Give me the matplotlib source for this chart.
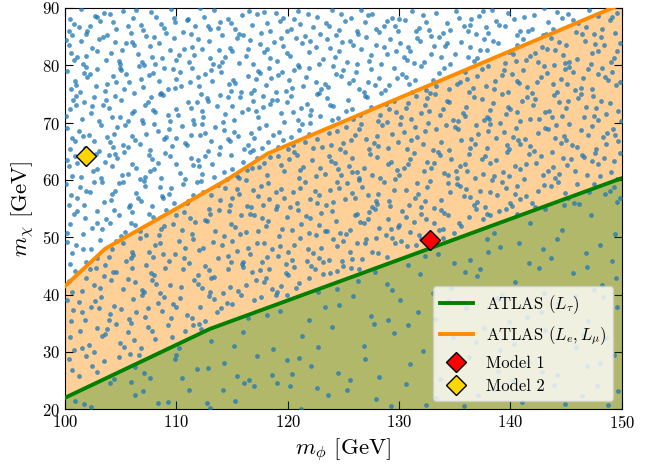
import matplotlib

matplotlib.use("Agg")
import matplotlib.pyplot as plt
import numpy as np

plt.rcParams["font.family"] = "serif"
plt.rcParams["font.serif"] = ["cmr10", "DejaVu Serif"]
plt.rcParams["mathtext.fontset"] = "cm"
plt.rcParams["axes.formatter.use_mathtext"] = True

# ATLAS exclusion boundaries (m_phi, m_chi)
atlas_tau_mphi = [100.0, 113.0, 150.0]
atlas_tau_mchi = [22.0, 34.0, 60.3]
atlas_emu_mphi = [100.0, 103.6, 110.0, 114.5, 118.2, 150.0]
atlas_emu_mchi = [41.5, 48.0, 55.0, 60.0, 64.6, 90.7]

# benchmark models
model1 = (132.8, 49.5)
model2 = (101.9, 64.2)

# parameter scan points, flattened (m_phi, m_chi) pairs
scan_points = [
    # 85-90
    100.8,87.2, 103.5,89.1, 105.9,85.6, 108.2,88.4, 111.7,86.9, 113.4,89.6, 116.0,85.3, 119.3,87.7, 121.8,89.0, 124.6,86.1,
    127.2,88.8, 129.9,85.9, 132.4,87.5, 135.1,89.4, 137.8,86.6, 140.3,88.1, 142.9,85.2, 145.6,87.9, 148.2,86.4, 149.6,89.2,
    101.9,85.4, 102.7,88.6, 106.8,87.0, 109.5,89.8, 110.6,85.8, 114.9,87.3, 117.2,88.9, 118.4,86.0, 122.9,85.5, 125.7,88.2,
    128.6,86.8, 131.2,89.5, 133.9,85.7, 136.5,88.0, 139.0,87.1, 141.6,85.9, 144.2,89.3, 146.8,86.7, 101.4,89.8, 104.6,86.3,
    107.3,85.1, 112.5,88.5, 115.3,86.4, 120.6,88.0, 123.4,87.4, 126.3,85.4, 130.5,87.9, 134.6,86.2, 138.3,89.7, 143.4,87.6,
    147.5,85.5, 100.3,86.0, 103.1,87.8, 105.2,89.5, 108.9,86.5, 111.0,88.0, 114.1,85.2, 116.8,87.0, 119.9,85.9, 121.1,87.2,
    124.0,89.7, 127.9,86.3, 129.4,88.3, 132.9,85.1, 135.8,86.9, 137.2,88.6, 140.9,86.0, 143.0,89.9, 145.9,85.8, 148.9,87.9,
    102.2,86.9, 106.1,88.2, 109.9,87.6, 113.0,86.3, 117.9,89.3, 122.3,86.6, 126.9,87.5, 131.8,86.5, 136.9,85.4, 141.2,88.5,
    100.4,88.0, 102.0,85.9, 104.0,88.9, 105.6,86.8, 107.7,89.3, 109.1,85.7, 110.9,87.9, 112.1,89.9, 113.7,86.5, 115.9,88.7,
    117.6,85.6, 118.9,89.1, 120.3,86.3, 122.6,88.4, 124.3,85.3, 125.1,87.8, 126.6,89.6, 128.2,85.8, 130.0,88.0, 131.5,86.0,
    133.3,89.2, 134.3,87.3, 136.2,85.9, 137.5,89.5, 139.5,86.9, 140.6,85.2, 142.1,88.8, 143.8,86.4, 145.2,89.0, 146.4,85.4,
    147.9,88.6, 149.4,85.7, 101.2,86.6, 103.8,85.2, 106.4,89.7, 108.6,87.2, 111.3,85.4, 114.6,88.1, 116.5,89.5, 119.6,88.3,
    121.5,85.1, 123.7,86.9, 127.6,89.0, 129.6,86.9, 132.1,88.7, 135.4,88.2, 138.7,87.8, 141.9,86.3, 144.6,88.2, 147.1,89.6,
    100.6,85.3, 104.3,87.6, 107.0,86.1, 109.8,88.3, 112.8,86.8, 115.6,85.5, 118.1,87.4, 120.9,89.4, 124.8,88.9, 128.9,87.7,
    132.7,86.2, 136.4,87.1, 139.8,89.1, 143.2,85.5, 146.1,87.4, 149.1,88.5, 102.9,88.5, 113.9,87.6, 126.2,86.0, 138.0,85.6,
    # 80-85
    100.5,82.1, 103.0,84.6, 104.8,80.7, 107.6,83.3, 110.2,81.8, 112.9,84.2, 115.6,80.4, 118.1,82.9, 120.7,84.8, 123.2,81.1,
    125.9,83.6, 128.4,80.2, 131.0,82.4, 133.6,84.9, 136.2,81.5, 138.9,83.8, 141.4,80.9, 144.0,82.7, 146.7,84.3, 149.3,81.3,
    101.6,80.3, 102.4,83.0, 106.0,84.0, 108.7,81.2, 109.8,84.7, 113.8,82.6, 116.6,84.4, 119.0,80.8, 121.9,82.3, 124.9,84.1,
    127.5,81.7, 130.1,83.9, 132.2,80.6, 135.0,82.0, 137.6,84.5, 140.2,81.9, 142.8,83.2, 145.3,80.5, 147.9,82.5, 100.1,84.4,
    104.1,82.2, 107.1,80.1, 111.4,83.1, 114.4,81.4, 117.5,83.7, 120.2,81.6, 122.8,80.3, 126.6,82.8, 129.2,84.6, 134.1,83.4,
    139.5,80.4, 143.6,84.8, 148.4,83.6, 101.1,81.5, 105.5,83.8, 108.0,85.0, 111.1,80.6, 115.0,82.4, 118.8,84.1, 123.8,83.0,
    127.0,84.9, 130.7,81.0, 133.1,83.3, 136.7,80.8, 140.6,83.5, 144.7,81.8, 147.2,80.2, 149.8,83.9, 103.7,81.0, 106.5,81.9,
    110.7,82.9, 113.3,80.2, 116.2,81.6, 119.6,83.4, 122.0,84.3, 125.3,80.5, 128.9,82.0, 131.9,84.2, 137.3,82.6, 142.2,82.1,
    100.3,83.5, 101.9,81.6, 103.4,85.0, 105.1,82.6, 106.9,80.5, 108.4,83.9, 110.0,80.9, 111.9,84.5, 113.0,81.3, 114.8,83.0,
    116.9,80.3, 117.9,82.3, 119.4,84.7, 120.9,80.1, 122.5,83.2, 124.2,81.4, 125.6,84.3, 127.3,80.7, 128.6,83.1, 130.4,81.5,
    131.6,84.8, 132.9,82.0, 134.6,80.3, 135.6,84.0, 137.0,81.2, 138.4,84.2, 139.9,82.3, 141.1,84.6, 142.5,80.6, 143.3,82.9,
    144.4,84.1, 146.0,81.1, 147.6,83.7, 149.0,80.6, 100.8,80.9, 102.9,82.4, 104.5,84.0, 107.8,81.4, 109.4,82.6, 112.3,82.8,
    115.4,84.7, 118.4,81.3, 121.3,83.9, 123.5,84.6, 126.2,80.2, 129.7,82.5, 133.8,81.5, 136.4,83.1, 140.5,80.8, 145.0,83.6,
    148.1,84.9, 101.4,84.2, 104.9,80.3, 108.1,80.2, 111.6,81.7, 114.1,80.5, 116.4,82.8, 119.9,82.1, 124.6,82.4, 127.9,83.5,
    131.3,80.4, 134.3,83.8, 137.9,82.7, 141.8,81.6, 144.9,80.4, 147.3,82.1, 149.6,82.5, 106.2,83.5, 130.8,83.1, 143.9,80.1,
    # 75-80
    100.9,77.3, 102.9,79.4, 105.3,75.8, 107.9,78.6, 110.4,76.4, 113.1,79.1, 115.8,75.3, 118.5,77.8, 121.0,79.7, 123.6,76.2,
    126.1,78.9, 128.7,75.6, 131.4,77.4, 134.0,79.5, 136.6,76.0, 139.2,78.3, 141.9,75.2, 144.5,77.6, 147.0,79.3, 149.5,76.6,
    101.3,75.4, 104.3,78.1, 106.6,79.9, 109.2,75.9, 111.9,77.9, 114.7,76.8, 117.3,79.0, 119.8,75.5, 122.5,77.1, 125.0,79.2,
    127.8,76.5, 130.3,78.4, 132.8,75.1, 135.5,77.0, 138.0,79.8, 140.8,76.9, 143.3,78.7, 145.8,75.7, 148.5,78.0, 100.2,79.0,
    103.8,76.7, 108.4,77.2, 112.2,75.0, 116.4,78.2, 120.4,76.1, 124.3,78.5, 129.5,79.6, 133.3,76.3, 137.0,78.1, 142.4,77.0,
    146.3,76.1, 102.0,77.9, 105.7,77.0, 109.7,79.3, 114.0,78.8, 118.0,76.6, 121.6,78.0, 126.8,75.4, 130.9,76.8, 135.9,78.8,
    139.8,75.3, 144.9,79.4, 148.8,77.5, 101.7,78.6, 107.0,76.2, 111.4,79.5, 115.1,77.5, 119.1,78.3, 123.0,75.9, 128.2,77.7,
    132.0,79.9, 136.3,75.4, 141.1,79.1, 145.1,76.8, 149.1,78.9, 104.9,79.6, 110.0,77.6, 117.0,75.6, 125.5,76.9, 138.6,77.3,
    100.5,75.9, 102.2,78.4, 103.6,75.5, 105.0,79.1, 106.8,77.6, 108.6,75.2, 110.3,78.8, 112.0,76.4, 113.8,79.8, 115.3,76.9,
    117.5,78.6, 118.9,75.3, 120.1,77.4, 121.9,79.5, 123.3,76.7, 124.8,78.2, 126.4,75.9, 127.5,79.4, 129.1,76.5, 130.6,78.0,
    132.4,75.6, 133.6,78.6, 135.2,76.8, 137.4,79.3, 138.5,75.8, 140.1,78.4, 141.5,76.2, 143.0,79.9, 144.2,75.3, 145.6,78.9,
    147.3,75.9, 148.2,79.6, 149.8,77.0, 101.0,76.6, 104.6,77.1, 107.5,78.3, 109.9,76.1, 113.2,77.2, 116.7,75.2, 119.5,78.9,
    122.8,75.2, 125.9,77.4, 129.8,77.8, 134.5,75.9, 139.4,79.1, 142.7,77.9, 146.5,77.7, 102.8,76.3, 106.2,75.2, 111.2,77.1,
    114.9,75.5, 118.3,79.6, 121.4,76.4, 124.1,79.9, 127.2,77.1, 131.2,75.3, 136.1,77.6, 140.6,77.2, 143.8,76.8, 147.9,78.5,
    101.9,79.7, 105.5,78.5, 108.9,79.5, 112.6,78.5, 117.1,77.6, 120.6,79.1, 128.4,75.2, 133.0,77.4, 137.8,76.4, 145.3,79.7,
    # 70-75
    100.4,72.4, 102.6,74.5, 104.9,70.9, 107.4,73.6, 110.1,71.3, 112.7,74.2, 115.2,70.5, 117.8,72.8, 120.3,74.7, 122.9,71.1,
    125.4,73.9, 128.1,70.3, 130.6,72.6, 133.2,74.9, 135.7,71.7, 138.4,73.4, 140.9,70.2, 143.5,72.1, 146.1,74.3, 148.6,71.5,
    101.5,70.6, 103.4,73.1, 106.2,72.0, 108.8,74.8, 111.3,72.5, 114.2,70.1, 116.9,73.8, 119.4,71.6, 121.7,73.3, 124.5,70.8,
    127.1,74.4, 129.7,71.9, 132.3,73.0, 134.8,70.4, 137.4,74.1, 140.0,72.3, 142.6,70.7, 145.2,73.7, 147.7,72.6, 149.9,70.3,
    100.7,74.0, 105.0,73.9, 109.4,70.2, 113.6,72.9, 118.6,74.0, 122.1,72.2, 126.5,71.4, 131.5,74.6, 136.0,72.7, 141.5,74.5,
    144.6,71.2, 148.1,73.8, 102.3,71.7, 106.9,70.4, 111.8,73.5, 115.9,71.8, 119.9,73.5, 124.1,72.9, 128.8,73.2, 133.7,71.3,
    138.1,70.6, 142.0,73.1, 146.6,70.9, 103.9,72.6, 108.1,71.8, 112.4,71.0, 117.1,72.1, 120.9,70.5, 125.8,72.3, 130.2,70.9,
    134.5,73.6, 139.6,71.5, 143.9,74.8, 147.4,74.6, 101.0,73.0, 107.7,74.4, 114.6,74.5, 123.5,74.3, 132.7,72.0, 137.9,71.0,
    100.1,71.2, 101.7,73.5, 103.0,70.3, 104.5,74.6, 106.0,71.6, 107.2,73.0, 108.5,74.9, 110.0,72.3, 111.5,70.5, 112.8,73.8,
    114.4,71.5, 115.7,74.4, 117.3,70.9, 118.4,73.2, 119.7,70.1, 121.2,72.6, 122.6,74.9, 124.0,70.4, 125.2,72.1, 126.9,74.6,
    128.3,71.3, 129.5,73.7, 131.1,70.6, 132.5,74.2, 133.9,72.4, 135.3,70.2, 136.7,74.5, 138.2,72.2, 139.2,74.9, 140.6,71.8,
    142.2,74.1, 143.7,70.9, 145.0,72.6, 146.3,74.9, 147.5,71.1, 148.9,73.4, 149.7,72.0, 102.4,72.9, 105.6,70.2, 109.2,71.4,
    113.9,74.8, 116.4,72.4, 120.5,71.8, 123.8,73.1, 127.5,72.7, 130.8,73.4, 134.3,73.8, 137.6,70.4, 141.0,73.7, 144.4,73.5,
    147.9,70.5, 101.0,74.7, 104.2,71.0, 107.9,72.2, 111.0,73.6, 115.0,72.9, 119.0,73.9, 122.0,71.4, 125.9,70.6, 129.1,72.4,
    132.0,71.6, 135.9,71.2, 139.8,72.8, 143.1,71.9, 146.8,72.8, 103.7,74.0, 112.3,72.0, 117.8,74.7, 128.9,70.1, 141.8,70.6,
    # 65-70
    100.6,67.3, 103.2,69.5, 105.6,65.8, 108.3,68.6, 110.8,66.4, 113.5,69.2, 116.1,65.4, 118.7,67.9, 121.3,69.8, 123.9,66.1,
    126.4,68.9, 129.0,65.5, 131.6,67.5, 134.2,69.6, 136.8,66.2, 139.4,68.4, 142.1,65.1, 144.8,67.7, 147.3,69.4, 149.7,66.7,
    101.8,65.6, 104.4,68.0, 107.0,69.9, 109.6,65.9, 112.1,67.8, 114.8,66.8, 117.4,69.0, 120.0,65.3, 122.6,67.2, 125.2,69.3,
    127.7,66.5, 130.4,68.3, 133.0,65.2, 135.6,67.0, 138.2,69.7, 140.7,66.9, 143.4,68.8, 146.0,65.7, 148.7,68.1, 100.2,69.1,
    104.0,66.6, 108.9,67.1, 112.8,65.0, 116.7,68.2, 120.5,66.0, 124.4,68.5, 128.5,69.6, 132.1,66.3, 137.1,68.0, 141.3,67.1,
    145.5,66.0, 102.1,67.9, 106.3,66.9, 110.5,69.4, 114.3,68.7, 118.2,66.6, 121.9,68.0, 127.3,65.3, 131.1,66.9, 135.3,68.8,
    139.9,65.4, 144.1,69.5, 148.3,67.4, 101.2,68.6, 106.7,66.3, 111.6,69.7, 115.5,67.6, 119.2,68.4, 123.1,65.8, 128.0,67.6,
    132.6,69.9, 136.4,65.5, 140.5,69.1, 145.0,66.9, 149.2,68.9, 105.4,69.6, 109.1,67.5, 117.7,65.6, 125.7,66.9, 138.7,67.3,
    100.4,65.4, 101.6,67.7, 103.0,65.1, 104.7,69.3, 106.0,67.6, 107.6,65.2, 109.3,68.9, 110.9,66.1, 112.3,69.8, 113.9,65.7,
    115.2,68.4, 116.4,66.0, 118.0,69.5, 119.6,66.9, 121.0,68.7, 122.3,65.5, 123.7,68.2, 125.0,66.4, 126.6,69.7, 128.1,65.9,
    129.4,68.0, 130.7,65.3, 132.3,68.5, 133.8,66.6, 135.0,69.2, 136.5,67.1, 137.9,65.6, 139.1,69.9, 140.2,67.5, 141.8,65.9,
    143.1,69.0, 144.5,66.5, 146.3,68.7, 147.7,65.3, 149.4,67.8, 102.6,66.7, 105.2,66.0, 108.0,69.8, 111.3,67.9, 114.6,67.2,
    117.0,67.3, 120.3,67.5, 124.7,65.4, 127.0,67.2, 131.4,69.3, 134.5,65.2, 138.0,68.5, 142.5,68.2, 145.3,69.8, 148.6,66.3,
    100.9,66.8, 103.8,67.4, 107.3,68.0, 110.0,67.3, 113.1,66.8, 116.9,65.2, 119.1,65.7, 122.0,69.9, 126.0,67.9, 129.9,66.6,
    133.3,68.9, 136.9,69.6, 140.9,66.2, 144.0,67.3, 147.0,67.9, 104.3,65.7, 112.6,68.1, 121.5,66.6, 130.1,69.8, 139.7,66.0,
    # 60-65
    100.3,62.5, 102.8,64.6, 105.1,60.8, 107.8,63.7, 110.3,61.2, 112.6,64.1, 115.4,60.6, 117.9,62.9, 120.6,64.8, 123.3,61.0,
    125.8,63.8, 128.3,60.4, 130.8,62.7, 133.5,64.9, 136.1,61.6, 138.7,63.5, 141.2,60.1, 143.8,62.2, 146.4,64.4, 149.0,61.4,
    101.4,60.5, 103.6,63.2, 106.4,62.1, 109.0,64.7, 111.5,62.6, 114.5,60.2, 117.2,63.9, 119.7,61.5, 122.2,63.4, 124.8,60.9,
    127.4,64.5, 129.8,61.8, 132.5,63.1, 135.2,60.3, 137.7,64.2, 140.4,62.4, 142.9,60.8, 145.4,63.6, 147.9,62.7, 149.6,60.2,
    100.9,64.1, 104.7,63.9, 108.6,60.3, 113.2,62.8, 118.4,64.0, 121.4,62.3, 126.2,61.3, 131.3,64.7, 135.9,62.8, 141.7,64.6,
    144.4,61.1, 148.4,63.9, 102.5,61.6, 107.2,60.5, 111.9,63.4, 116.3,61.7, 120.1,63.6, 124.2,62.9, 129.3,63.2, 134.0,61.2,
    138.5,60.7, 142.3,63.0, 146.9,60.9, 104.2,62.5, 108.0,61.9, 112.3,61.1, 116.8,62.0, 121.0,60.4, 125.5,62.4, 130.0,60.8,
    134.7,63.7, 139.3,61.4, 143.7,64.8, 147.6,64.7, 101.1,63.0, 107.5,64.3, 114.9,64.4, 123.7,64.2, 132.9,62.1, 137.5,61.1,
    100.6,60.7, 101.8,62.9, 103.2,60.4, 104.5,64.5, 106.0,62.8, 107.6,61.5, 109.4,64.1, 110.8,60.1, 112.0,62.4, 113.8,64.6,
    115.0,61.9, 116.6,64.9, 118.1,60.8, 119.4,62.6, 120.8,64.4, 122.5,60.6, 123.9,63.3, 125.1,64.9, 126.8,62.0, 128.0,64.0,
    129.6,60.1, 131.0,63.6, 132.2,61.5, 133.7,64.3, 135.5,62.4, 136.8,60.4, 138.2,63.0, 139.7,64.8, 140.9,61.9, 142.7,64.2,
    144.0,60.3, 145.1,62.6, 146.6,64.0, 148.0,60.6, 149.3,63.3, 102.9,61.9, 105.6,61.0, 108.3,62.9, 111.3,63.9, 114.3,61.4,
    117.4,62.2, 121.1,61.7, 124.5,61.9, 127.6,60.9, 130.4,62.0, 134.4,60.9, 137.4,63.7, 141.4,62.8, 145.8,61.6, 149.8,64.7,
    100.2,63.5, 103.9,64.3, 106.7,60.2, 110.0,62.8, 113.4,60.5, 116.0,63.1, 119.1,64.2, 122.9,62.1, 126.4,60.3, 129.0,62.7,
    133.1,62.9, 136.3,64.5, 139.9,60.6, 143.4,61.6, 147.3,63.3, 105.3,64.8, 115.6,60.3, 125.8,61.3, 135.1,61.5, 144.7,63.9,
    # 55-60
    100.5,57.4, 103.3,59.6, 105.8,55.7, 108.5,58.7, 111.0,56.3, 113.7,59.1, 116.3,55.5, 118.9,57.8, 121.5,59.7, 124.1,56.2,
    126.7,58.8, 129.2,55.4, 131.7,57.6, 134.4,59.5, 137.0,56.1, 139.6,58.5, 142.2,55.2, 144.9,57.7, 147.5,59.3, 149.8,56.8,
    101.7,55.6, 104.5,58.0, 107.1,59.8, 109.8,55.9, 112.4,57.9, 115.0,56.9, 117.6,59.0, 120.2,55.3, 122.8,57.3, 125.3,59.4,
    127.9,56.4, 130.6,58.2, 133.1,55.1, 135.8,57.1, 138.3,59.9, 140.9,56.7, 143.6,58.9, 146.2,55.8, 148.9,58.1, 100.1,59.2,
    104.1,56.5, 108.7,57.2, 112.9,55.0, 116.9,58.3, 120.8,56.0, 124.6,58.6, 128.6,59.7, 132.3,56.3, 137.3,58.0, 141.4,57.2,
    145.7,56.0, 102.2,57.8, 106.5,56.8, 110.6,59.3, 114.4,58.6, 118.3,56.6, 122.4,58.0, 127.6,55.3, 131.4,56.9, 135.5,58.9,
    140.1,55.5, 144.3,59.6, 148.5,57.5, 101.3,58.7, 106.8,56.4, 111.8,59.7, 115.6,57.5, 119.4,58.4, 123.4,55.7, 128.1,57.6,
    132.8,59.8, 136.7,55.6, 140.6,59.0, 145.2,56.9, 149.3,58.8, 105.2,59.7, 109.3,57.6, 117.8,55.6, 126.0,56.9, 138.8,57.4,
    100.3,55.6, 101.9,58.1, 103.5,56.1, 104.8,59.4, 106.4,57.7, 107.8,55.5, 109.5,58.6, 110.9,56.0, 112.2,59.8, 113.9,56.5,
    115.4,58.4, 116.7,55.2, 118.2,59.5, 119.7,56.9, 121.1,58.6, 122.6,55.9, 123.8,58.2, 125.1,56.6, 126.4,59.9, 128.0,55.8,
    129.5,58.3, 130.9,55.6, 132.5,58.7, 133.8,56.5, 135.2,59.3, 136.4,57.0, 137.7,55.3, 139.2,59.7, 140.4,57.5, 141.9,56.0,
    143.0,59.1, 101.1,56.9, 104.2,57.6, 107.2,58.9, 111.5,57.3, 114.8,55.7, 117.3,57.2, 120.5,57.8, 124.4,59.6, 127.2,57.4,
    131.6,59.4, 134.6,57.9, 138.2,57.8, 142.5,58.0, 102.6,59.6, 105.7,55.3, 108.8,56.9, 113.1,57.4, 116.2,59.9, 119.0,55.5,
    122.0,56.7, 125.8,57.7, 129.1,56.3, 132.0,55.3, 136.0,58.4, 140.0,55.9, 144.8,55.6, 147.1,57.8, 149.6,56.1, 146.0,59.2,
    # 50-55
    100.4,52.3, 102.9,54.5, 105.4,50.9, 107.9,53.6, 110.5,51.2, 113.0,54.1, 115.7,50.5, 118.2,52.9, 120.9,54.7, 123.5,51.1,
    126.0,53.8, 128.8,50.3, 131.3,52.7, 133.8,54.8, 136.3,53.6, 139.0,54.6, 101.6,50.6, 103.7,53.2, 106.3,52.1, 109.1,54.8,
    111.7,52.6, 114.3,50.2, 117.0,53.9, 119.5,51.5, 122.0,53.4, 124.7,50.8, 127.3,54.4, 129.9,51.8, 132.4,53.1, 134.9,50.7,
    100.8,54.1, 104.8,53.9, 108.4,50.4, 112.7,52.8, 116.6,54.0, 121.2,52.3, 125.6,51.3, 130.3,54.6, 135.4,52.4, 102.4,51.6,
    107.3,50.3, 111.2,53.4, 115.3,51.7, 119.9,53.6, 124.3,52.9, 129.0,53.2, 133.6,51.2, 104.0,52.5, 108.9,51.9, 113.5,51.1,
    118.0,52.0, 122.5,50.4, 126.8,52.4, 131.0,50.9, 134.4,53.9, 137.9,54.0, 106.0,54.4, 114.7,54.5, 123.0,54.2, 128.2,51.6,
    138.5,50.8, 141.8,52.5, 144.6,51.3, 147.2,53.9, 149.4,50.6, 143.1,54.9,
    100.2,50.8, 101.8,53.3, 103.3,51.4, 104.4,54.8, 105.9,52.4, 107.5,54.0, 108.6,51.5, 110.0,53.9, 111.4,50.6, 112.6,53.0,
    113.8,54.7, 114.9,52.3, 116.2,50.9, 117.7,53.3, 118.9,54.9, 120.4,51.3, 121.6,53.7, 122.8,52.1, 124.0,54.5, 125.2,50.5,
    126.5,52.6, 127.8,54.9, 129.3,51.4, 130.6,53.6, 131.8,50.4, 133.1,52.5, 134.0,54.3, 135.6,51.9, 136.9,54.9, 138.2,53.8,
    139.6,54.9, 140.6,54.1, 102.9,52.4, 106.7,51.0, 109.7,52.3, 115.8,53.8, 119.2,50.2, 123.3,51.0, 127.2,53.1, 132.0,54.1,
    101.1,54.6, 105.0,50.2, 110.7,54.4, 117.3,51.0, 121.9,50.7, 126.2,54.0, 130.0,52.2, 133.9,51.4, 137.5,53.2,
    # 45-50
    100.6,47.3, 103.1,49.5, 105.5,45.8, 108.1,48.6, 110.7,46.4, 113.3,49.2, 115.9,45.4, 118.6,47.9, 121.1,49.8, 123.7,46.1,
    126.2,48.9, 128.9,46.5, 131.5,48.7, 101.9,45.6, 104.2,48.0, 106.7,49.9, 109.3,45.9, 112.0,47.8, 114.6,46.8, 117.2,49.0,
    119.8,45.3, 122.3,47.2, 125.0,49.3, 127.6,47.4, 130.2,49.4, 100.2,49.1, 103.9,46.6, 108.8,47.1, 112.6,45.0, 116.4,48.2,
    120.4,46.0, 124.4,48.5, 102.3,47.9, 106.1,46.9, 110.2,49.4, 114.1,48.7, 118.1,46.6, 121.8,48.0, 126.7,46.2, 101.0,48.6,
    105.9,46.3, 111.5,49.7, 115.4,47.6, 119.3,48.4, 123.2,45.7, 127.0,49.6, 107.5,47.5, 117.7,45.6, 124.9,45.9, 129.6,48.9,
    130.8,45.2, 133.5,47.0, 136.4,46.1, 139.1,48.3, 141.7,45.5, 144.2,49.6, 146.8,47.2, 149.1,45.9, 137.9,49.7, 142.9,47.9,
    100.4,45.4, 101.6,47.9, 102.9,46.4, 104.6,49.4, 106.0,47.4, 107.3,45.1, 108.5,49.0, 109.9,47.0, 111.1,45.5, 112.4,48.2,
    113.7,46.3, 115.0,49.3, 116.6,47.1, 117.9,48.9, 119.1,46.8, 120.6,48.7, 121.7,45.9, 123.0,48.1, 124.1,49.7, 125.6,47.5,
    126.9,49.0, 128.1,47.2, 129.4,49.9, 130.7,48.4, 132.0,49.6, 133.9,49.9, 103.6,45.2, 107.9,46.6, 110.8,48.1, 114.9,45.6,
    120.0,47.5, 122.8,46.3, 127.9,49.9, 105.2,48.9, 116.0,45.6, 125.8,46.2,
    132.3,46.7, 134.9,45.5, 138.0,47.5, 140.8,49.0, 143.6,46.4, 148.0,48.6,
    # 40-45
    100.3,42.4, 102.8,44.6, 105.2,40.9, 107.7,43.7, 110.4,41.3, 112.9,44.2, 115.5,40.6, 118.0,42.9, 120.6,44.8, 123.2,43.5,
    125.7,44.7, 101.5,40.6, 103.5,43.2, 106.3,42.1, 109.0,44.7, 111.6,42.6, 114.2,40.2, 116.8,43.9, 119.4,41.5, 121.9,42.9,
    124.4,44.1, 100.9,44.1, 104.6,43.9, 108.5,40.3, 113.1,42.8, 117.5,44.3, 122.4,44.4, 102.6,41.6, 107.1,40.5, 111.9,43.4,
    116.2,41.7, 120.0,43.4, 104.1,42.5, 108.2,41.9, 112.3,41.1, 117.9,42.2, 106.0,44.6, 114.6,44.4, 119.0,40.4,
    122.7,40.5, 126.3,42.4, 129.4,40.8, 131.9,43.6, 134.7,41.2, 137.3,44.5, 140.4,42.1, 143.0,40.3, 145.6,43.8, 148.2,41.6,
    135.9,44.0, 127.8,43.9, 139.2,40.0, 146.9,44.8, 149.5,42.9,
    100.6,40.4, 101.9,42.9, 103.1,41.1, 104.3,44.0, 105.6,42.7, 106.9,40.8, 108.0,43.4, 109.4,41.7, 110.6,44.4, 111.9,41.9,
    113.4,43.1, 114.8,41.3, 116.0,44.8, 117.1,42.5, 118.6,40.9, 119.8,43.7, 121.0,42.0, 122.1,44.9, 123.8,43.8, 125.0,44.9,
    126.4,44.4, 102.2,44.4, 107.8,42.6, 113.0,40.4, 118.3,44.5, 120.7,41.2,
    124.4,41.0, 128.9,41.9, 133.0,40.2, 137.0,43.2, 142.6,44.7, 147.5,40.7,
    # 35-40
    100.7,37.3, 103.2,39.5, 105.7,35.8, 108.3,38.6, 110.9,36.4, 113.4,39.2, 101.8,35.6, 104.4,38.0, 106.9,39.9, 109.5,35.9,
    112.1,37.8, 115.0,38.3, 117.6,39.6, 100.2,39.1, 104.0,36.6, 108.7,37.1, 112.6,35.3, 102.3,37.9, 106.4,36.9, 110.3,39.4,
    114.0,37.6, 118.9,39.9, 107.4,37.6, 101.2,38.7, 105.9,35.1,
    116.4,35.9, 119.3,37.2, 121.9,35.5, 124.6,38.1, 127.5,36.3, 130.1,39.0, 133.2,35.8, 136.0,37.7, 138.8,39.4, 141.5,36.0,
    144.3,38.6, 147.0,35.4, 149.6,37.9, 125.9,39.7, 139.9,35.2, 131.7,37.0, 145.8,39.8,
    100.5,35.4, 101.5,36.9, 102.7,38.8, 103.9,35.6, 105.0,37.4, 106.1,39.2, 107.2,36.0, 108.9,39.6, 110.0,37.9, 111.4,35.9,
    112.9,39.7, 114.5,38.6, 115.8,39.9, 117.0,39.0, 103.0,37.6, 109.7,38.4, 113.6,37.0, 119.9,39.9,
    118.1,36.4, 123.3,37.8, 129.0,35.5, 134.4,38.9, 142.7,36.9, 148.3,39.6,
    # 30-35
    100.4,32.6, 102.9,34.2, 105.3,30.9, 107.8,33.7, 101.5,30.6, 103.6,33.1, 106.2,32.1, 109.2,34.7, 111.5,34.6, 104.6,34.8,
    102.1,31.2, 103.3,32.8, 104.9,31.6, 108.1,32.3,
    110.2,30.7, 113.1,31.9, 116.0,33.5, 118.7,30.5, 121.3,32.8, 124.0,34.4, 126.8,31.0, 129.5,33.3, 132.1,30.2, 134.8,32.6,
    137.6,34.1, 140.3,31.4, 143.1,33.8, 145.9,30.8, 148.6,32.4, 112.2,33.9, 127.7,34.8, 139.1,30.3,
    100.8,30.4, 101.3,33.6, 102.6,30.0, 103.8,34.0, 105.6,33.4, 106.8,30.6, 107.4,34.3, 109.6,32.6, 110.8,33.6, 112.0,34.9,
    115.2,31.0, 122.7,30.9, 130.8,34.6, 136.9,31.8, 146.5,33.0,
    # 25-30
    100.6,26.9, 101.9,29.2, 103.5,28.4, 105.8,29.6, 102.4,27.6,
    104.4,25.3, 106.3,27.4, 107.6,25.5, 109.9,28.7, 110.5,25.4, 112.8,27.2, 114.3,28.0, 115.4,25.8, 116.5,25.0, 118.6,26.0,
    119.9,28.6, 120.4,26.1, 121.0,29.0, 122.1,27.6, 124.5,26.3, 126.9,28.8, 128.2,25.6, 131.0,27.9, 133.7,25.2, 136.3,29.1,
    138.9,26.7, 141.6,28.3, 144.2,25.9, 146.9,27.5, 149.3,29.4, 110.0,29.4,
    100.3,28.8, 101.2,25.8, 102.9,26.5, 104.8,29.1, 106.6,29.5,
    107.1,26.3, 111.8,27.0, 117.2,29.3, 125.6,25.1, 134.9,27.6, 142.8,26.5, 148.0,28.0,
    # 20-25
    100.9,21.5, 102.3,20.3, 105.9,24.7, 106.3,22.4, 108.3,21.1, 109.2,21.3, 112.7,21.0, 113.0,20.2, 116.1,24.6, 117.0,24.0,
    119.0,24.6, 120.2,24.0, 121.2,20.1, 123.6,22.5, 125.3,23.3, 127.9,21.7, 130.6,24.4, 133.3,22.0, 135.8,20.6, 138.4,23.6,
    141.0,21.2, 143.9,24.2, 146.4,22.3, 148.8,20.8, 104.0,24.5, 111.1,23.4, 114.2,23.3, 132.4,20.7, 140.2,24.9, 147.8,24.1,
    101.7,20.9, 107.0,23.1, 115.3,21.4, 122.6,23.7, 129.3,20.5, 137.1,22.4, 144.9,20.9, 149.7,23.2,
]

scan = np.array(scan_points).reshape(-1, 2)
scan_mphi, scan_mchi = scan[:, 0], scan[:, 1]

fig = plt.figure(figsize=(6.65, 4.66), dpi=100)
ax = fig.add_axes([0.098, 0.122, 0.837, 0.861])

# exclusion regions
ax.fill_between(atlas_emu_mphi, atlas_emu_mchi, 20, color="darkorange", alpha=0.4, linewidth=0, zorder=1)
ax.fill_between(atlas_tau_mphi, atlas_tau_mchi, 20, color="green", alpha=0.3, linewidth=0, zorder=2)

# scan points drawn over the shading
ax.scatter(scan_mphi, scan_mchi, s=12, color="#1f77b4", alpha=0.75, linewidths=0, zorder=3)

ax.plot(atlas_tau_mphi, atlas_tau_mchi, color="green", lw=2.8, zorder=4, label=r"ATLAS $(L_\tau)$")
ax.plot(atlas_emu_mphi, atlas_emu_mchi, color="darkorange", lw=2.8, zorder=4, label=r"ATLAS $(L_e, L_\mu)$")

ax.plot(*model1, marker="D", ms=10, color="red", mec="black", mew=1.0, ls="none", zorder=6, label="Model 1")
ax.plot(*model2, marker="D", ms=10, color="gold", mec="black", mew=1.0, ls="none", zorder=6, label="Model 2")

ax.set_xlim(100, 150)
ax.set_ylim(20, 90)
ax.set_xlabel(r"$m_\phi$ [GeV]", fontsize=16.5)
ax.set_ylabel(r"$m_\chi$ [GeV]", fontsize=16.5)
ax.tick_params(direction="in", top=True, right=True, length=6, labelsize=12)

ax.legend(loc="lower right", fontsize=12, framealpha=0.8)

fig.savefig("out.png", dpi=100)
